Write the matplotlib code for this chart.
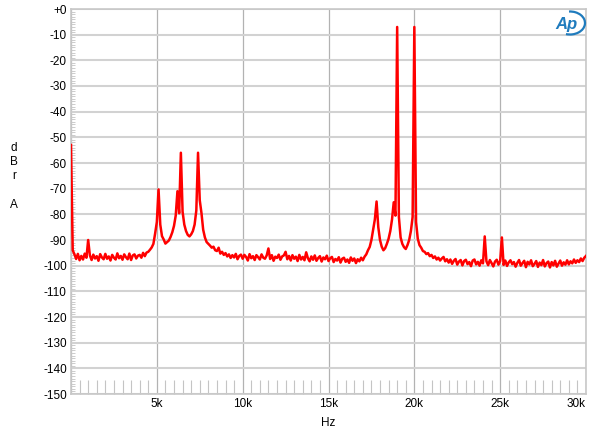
import numpy as np
import matplotlib
matplotlib.use("Agg")
import matplotlib.pyplot as plt
from matplotlib.patches import Arc
from matplotlib.ticker import MultipleLocator, FixedLocator

plt.rcParams['font.family'] = ['Liberation Sans', 'DejaVu Sans']

# Spektrum: ein Wert je 100-Hz-Schritt, von 0 Hz bis 30 kHz
freq_hz = np.arange(0, 30001, 100)
level_db = [
    -53.0, -94.0, -95.6, -97.4, -95.4, -97.9, -96.2, -97.6, -95.3, -96.9,   # 0k
    -90.0, -96.0, -97.8, -95.7, -97.2, -96.3, -98.1, -95.5, -96.8, -97.5,   # 1k
    -95.4, -97.3, -96.4, -98.0, -95.8, -96.9, -97.6, -95.2, -97.1, -96.2,   # 2k
    -97.7, -95.6, -96.7, -97.5, -95.3, -97.8, -96.0, -95.6, -97.2, -96.1,   # 3k
    -95.8, -96.9, -95.0, -96.3, -94.9, -94.6, -93.8, -92.9, -91.5, -87.5,   # 4k
    -83.0, -70.3, -84.0, -88.5, -89.8, -91.4, -90.8, -90.2, -88.8, -87.0,   # 5k
    -84.5, -80.5, -71.0, -79.6, -56.0, -79.0, -84.0, -86.5, -88.0, -88.6,   # 6k
    -87.8, -86.5, -84.0, -78.5, -56.0, -74.5, -79.5, -86.0, -89.0, -90.8,   # 7k
    -91.5, -92.2, -93.0, -92.6, -94.0, -94.3, -93.0, -95.3, -94.6, -95.8,   # 8k
    -95.1, -96.4, -95.6, -97.0, -95.9, -96.8, -95.4, -97.5, -96.2, -95.7,   # 9k
    -97.3, -95.8, -96.6, -98.0, -95.5, -97.1, -96.3, -97.8, -95.9, -96.7,   # 10k
    -97.6, -95.6, -96.9, -97.3, -96.0, -93.3, -97.4, -95.9, -98.1, -96.5,   # 11k
    -97.0, -95.7, -97.7, -96.4, -96.0, -94.6, -97.5, -96.2, -98.0, -95.9,   # 12k
    -97.3, -96.5, -98.2, -95.8, -97.6, -96.6, -97.9, -94.8, -97.1, -98.3,   # 13k
    -96.4, -97.7, -96.0, -98.1, -97.0, -96.3, -98.4, -96.8, -97.5, -96.1,   # 14k
    -98.2, -97.1, -96.6, -98.6, -97.4, -98.0, -96.7, -98.8, -97.3, -96.9,   # 15k
    -98.5, -97.6, -98.9, -96.8, -98.1, -97.2, -99.0, -97.5, -98.3, -96.9,   # 16k
    -97.9, -96.5, -95.6, -94.0, -92.7, -90.0, -86.0, -82.0, -75.0, -85.0,   # 17k
    -90.0, -92.6, -94.0, -93.2, -91.5, -89.5, -86.5, -82.0, -75.3, -80.5,   # 18k
    -7.0, -81.0, -89.0, -91.5, -92.8, -93.5, -92.0, -90.0, -86.5, -81.0,    # 19k
    -7.0, -83.0, -89.5, -92.0, -93.0, -94.3, -94.6, -95.5, -95.1, -96.3,    # 20k
    -95.8, -97.0, -96.4, -97.6, -96.9, -98.0, -97.2, -96.6, -98.3, -97.5,   # 21k
    -98.8, -97.6, -99.3, -98.1, -97.4, -99.6, -98.4, -97.8, -99.9, -98.2,   # 22k
    -97.7, -99.4, -98.6, -100.2, -98.0, -97.6, -99.5, -98.5, -100.0, -97.9, # 23k
    -99.1, -88.6, -98.3, -99.8, -97.8, -99.0, -100.3, -98.4, -97.7, -99.6,  # 24k
    -98.2, -89.0, -99.7, -98.0, -100.1, -98.7, -97.9, -99.4, -98.6, -100.4, # 25k
    -98.9, -97.8, -100.0, -99.0, -98.1, -100.6, -98.5, -99.5, -97.9, -100.2,  # 26k
    -99.3, -98.2, -100.5, -98.8, -99.8, -97.8, -100.3, -99.0, -98.4, -100.7,  # 27k
    -98.6, -99.9, -98.1, -100.4, -99.2, -98.0, -100.0, -98.7, -99.6, -97.9,   # 28k
    -99.5, -98.3, -99.1, -97.6, -98.9, -97.9, -98.6, -97.2, -98.2, -96.9,     # 29k
    -96.2,                                                                    # 30k
]

x_ticks = [0, 5000, 10000, 15000, 20000, 25000, 30000]
x_labels = ['', '5k', '10k', '15k', '20k', '25k', '30k']
y_ticks = list(range(0, -151, -10))
y_labels = ['+0'] + [str(v) for v in y_ticks[1:]]

fig = plt.figure(figsize=(6, 4.4), dpi=100)
ax = fig.add_axes([71/600, 1 - 394/440, (586 - 71)/600, (394 - 9)/440])

ax.plot(freq_hz, level_db, color='#ff0000', lw=1.8, zorder=3)

ax.set_xlim(0, 30000)
ax.set_ylim(-150, 0)
ax.set_xticks(x_ticks)
ax.set_xticklabels(x_labels)
ax.get_xticklabels()[-1].set_ha('right')
ax.set_yticks(y_ticks)
ax.set_yticklabels(y_labels)
ax.xaxis.set_minor_locator(FixedLocator([f for f in range(500, 30000, 500) if f % 5000]))
ax.yaxis.set_minor_locator(MultipleLocator(1))

ax.tick_params(axis='both', which='major', length=0, labelsize=8.5, colors='black', pad=3)
ax.tick_params(axis='x', which='minor', direction='in', length=10, width=0.8, color='#c4c4c4')
ax.tick_params(axis='y', which='minor', direction='in', length=3, width=0.6, color='#c4c4c4')

ax.grid(axis='y', which='major', color='#d2d2d2', lw=1.5)
ax.grid(axis='x', which='major', color='#b2b2b2', lw=0.9)
for s in ax.spines.values():
    s.set_color('#c8c8c8')
    s.set_linewidth(1.2)

fig.text(14/600, 1 - 176/440, 'd\nB\nr\n\nA', ha='center', va='center',
         fontsize=8.5, linespacing=1.25)
fig.text(328/600, 1 - 423/440, 'Hz', ha='center', va='center', fontsize=8.5)

# Audio-Precision-Logo oben rechts
fig.text(566/600, 1 - 24/440, 'Ap', ha='center', va='center', fontsize=12,
         style='italic', fontweight='bold', color='#1f7bbd')
fig.add_artist(Arc((5.70, 4.17), 0.30, 0.23, theta1=-110, theta2=95,
                   transform=fig.dpi_scale_trans, color='#1f7bbd', lw=1.6))

fig.savefig('out.png', dpi=100)
